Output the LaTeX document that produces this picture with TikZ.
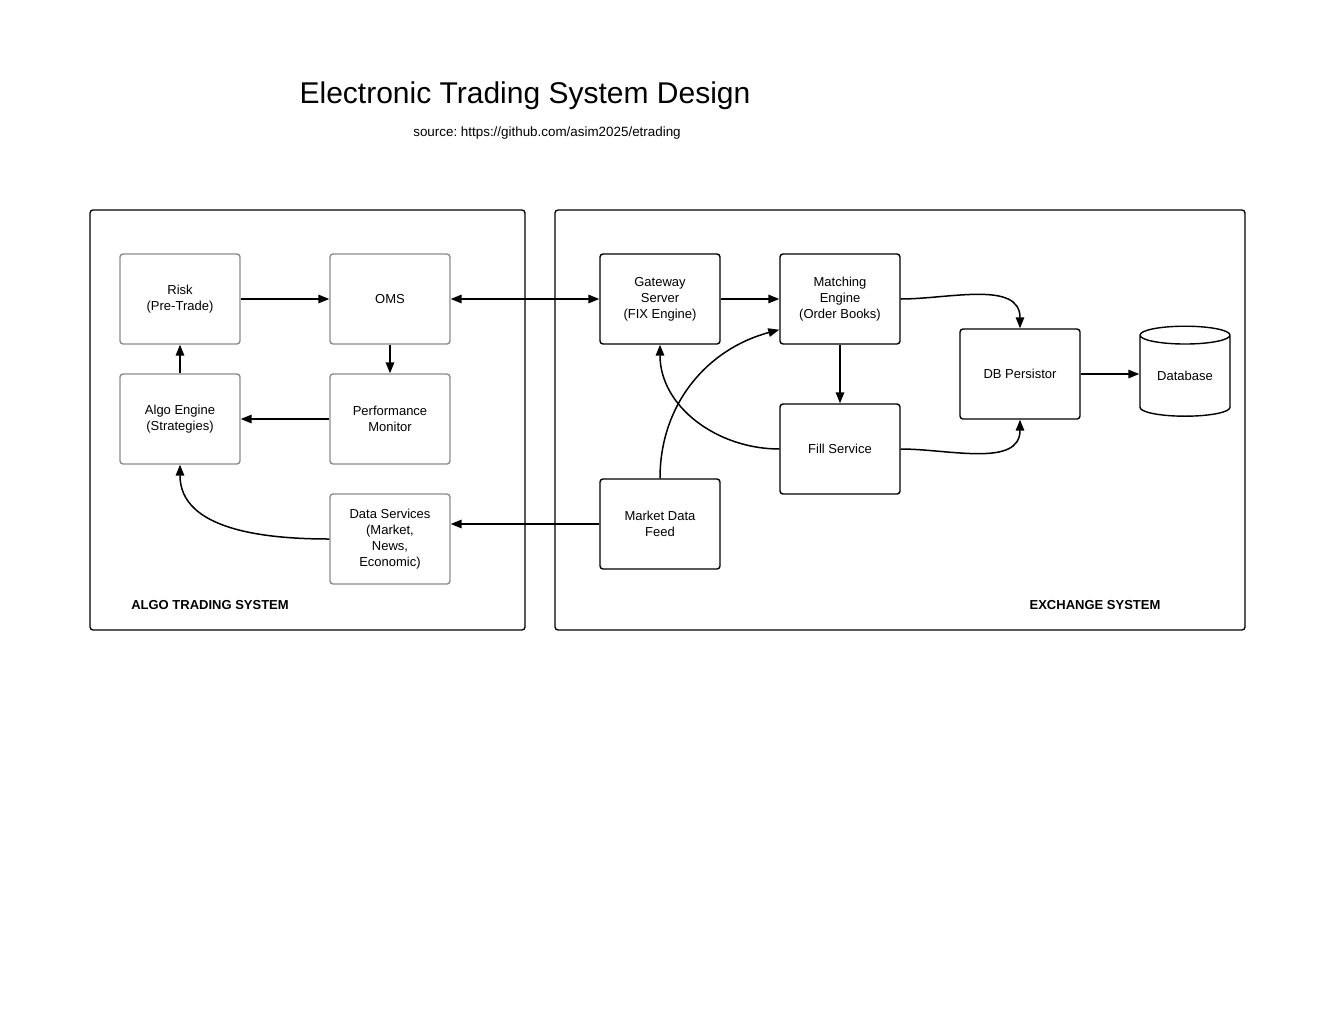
\documentclass[tikz,border=0pt]{standalone}
\usepackage{fontspec}
\setmainfont{Liberation Sans}
\usepackage{tikz}
\usetikzlibrary{calc,arrows.meta,shapes.geometric}
\definecolor{ink}{HTML}{000000}
\definecolor{soft}{HTML}{8C8C8C}
\tikzset{
  panel/.style={draw=ink, line width=1.3pt, rounded corners=3pt},
  box/.style={draw=ink, line width=1.4pt, rounded corners=3pt, minimum width=120pt, minimum height=90pt, inner sep=0pt, align=center, font=\fontsize{13}{16}\selectfont},
  algobox/.style={box, draw=soft},
  store/.style={cylinder, shape border rotate=90, aspect=0.32, draw=ink, line width=1.4pt, minimum width=90pt, minimum height=90pt, inner sep=0pt, font=\fontsize{13}{16}\selectfont},
  flow/.style={draw=ink, line width=1.5pt, -{Triangle[length=11pt,width=8.5pt]}},
  both/.style={flow, {Triangle[length=11pt,width=8.5pt]}-{Triangle[length=11pt,width=8.5pt]}},
  lab/.style={text=ink, font=\fontsize{13.4}{16}\selectfont},
  sys/.style={text=ink, font=\bfseries\fontsize{13}{16}\selectfont},
}

\begin{document}
\frenchspacing
\begin{tikzpicture}[x=1pt,y=-1pt]
  \useasboundingbox (0,0) rectangle (1320,1020);

  \node[font=\fontsize{30}{36}\selectfont] (title) at (525,96) {Electronic Trading System Design};
  \node[lab] (src) at (547,133) {source: https://github.com/asim2025/etrading};

  \draw[panel] (90,210) rectangle (525,630);
  \draw[panel] (555,210) rectangle (1245,630);
  \node[sys] (algosys) at (210,605) {ALGO TRADING SYSTEM};
  \node[sys] (exsys) at (1095,605) {EXCHANGE SYSTEM};

  \node[algobox] (risk) at (180,299) {Risk\\(Pre-Trade)};
  \node[algobox] (oms)  at (390,299) {OMS};
  \node[algobox] (algo) at (180,419) {Algo Engine\\(Strategies)};
  \node[algobox] (perf) at (390,419) {Performance\\Monitor};
  \node[algobox] (dsvc) at (390,539) {Data Services\\(Market,\\News,\\Economic)};

  \node[box] (gw)   at (660,299) {Gateway\\Server\\(FIX Engine)};
  \node[box] (me)   at (840,299) {Matching\\Engine\\(Order Books)};
  \node[box] (fill) at (840,449) {Fill Service};
  \node[box] (mdf)  at (660,524) {Market Data\\Feed};
  \node[box] (dbp)  at (1020,374) {DB Persistor};
  \node[store] (db) at (1185,376) {Database};

  \draw[flow] (risk) -- (oms);
  \draw[both] (oms) -- (gw);
  \draw[flow] (oms) -- (perf);
  \draw[flow] (perf) -- (algo);
  \draw[flow] (algo) -- (risk);
  \draw[flow] (dsvc.west) to[out=180,in=-90] (algo.south);
  \draw[flow] (mdf.west) -- (mdf.west -| dsvc.east);

  \draw[flow] (gw) -- (me);
  \draw[flow] (me) -- (fill);
  \draw[flow] (mdf.north) to[out=90,in=195] ($(me.south west)+(0,-15)$);
  \draw[flow] (fill.west) to[out=180,in=-90] (gw.south);
  \draw[flow] (me.east) to[out=0,in=90] (dbp.north);
  \draw[flow] (fill.east) to[out=0,in=-90] (dbp.south);
  \draw[flow] (dbp.east) -- (dbp.east -| db.west);
\end{tikzpicture}
\end{document}
